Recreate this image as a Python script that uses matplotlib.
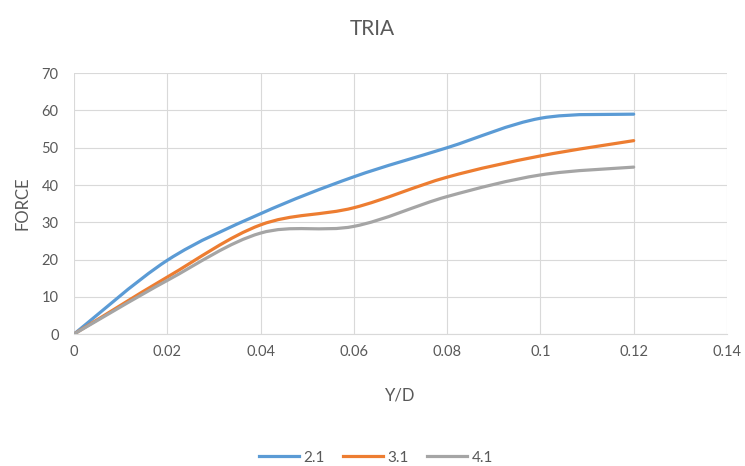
import numpy as np
import matplotlib
matplotlib.use("Agg")
import matplotlib.pyplot as plt
from matplotlib.path import Path
from matplotlib.patches import PathPatch
from matplotlib.lines import Line2D

# valores
y_d = [0, 0.02, 0.04, 0.06, 0.08, 0.10, 0.12]
force_21 = [0, 19.8, 32.3, 42.2, 50.0, 57.9, 59.0]
force_31 = [0, 15.3, 29.3, 33.9, 42.1, 47.8, 51.9]
force_41 = [0, 14.4, 27.1, 28.9, 36.9, 42.7, 44.8]
series_names = ["2.1", "3.1", "4.1"]
colors = ["#5B9BD5", "#ED7D31", "#A5A5A5"]

plt.rcParams["font.family"] = ["Lato", "DejaVu Sans"]
TXT = "#595959"


def curva_suave(x, y):
    """Caminho Bezier ao estilo 'smoothed line' do Excel."""
    pts = np.column_stack([x, y])
    n = len(pts)
    verts = [pts[0]]
    codes = [Path.MOVETO]
    for i in range(n - 1):
        p0 = pts[i - 1] if i > 0 else pts[i]
        p1 = pts[i]
        p2 = pts[i + 1]
        p3 = pts[i + 2] if i + 2 < n else pts[i + 1]
        c1 = p1 + (p2 - p0) / 6
        c2 = p2 - (p3 - p1) / 6
        verts += [c1, c2, p2]
        codes += [Path.CURVE4] * 3
    return Path(verts, codes)


fig = plt.figure(figsize=(7.45, 4.66), dpi=100)
ax = fig.add_axes([0.0993, 0.283, 0.8765, 0.560])

for vals, cor in zip([force_21, force_31, force_41], colors):
    patch = PathPatch(curva_suave(y_d, vals), facecolor="none", edgecolor=cor,
                      lw=2.3, capstyle="round", joinstyle="round", zorder=3)
    ax.add_patch(patch)

ax.set_xlim(0, 0.14)
ax.set_ylim(0, 70)
ax.set_xticks(np.arange(0, 0.141, 0.02))
ax.set_xticklabels(["0", "0.02", "0.04", "0.06", "0.08", "0.1", "0.12", "0.14"])
ax.set_yticks(range(0, 71, 10))
ax.grid(True, color="#D9D9D9", lw=0.8)
ax.set_axisbelow(True)
for lado in ["top", "right", "left"]:
    ax.spines[lado].set_visible(False)
ax.spines["bottom"].set_color("#D9D9D9")
ax.tick_params(length=0, labelsize=10.5, colors=TXT)
ax.tick_params(axis="y", pad=11)
ax.tick_params(axis="x", pad=8)

ax.set_xlabel("Y/D", fontsize=12, color=TXT, labelpad=20)
ax.set_ylabel("FORCE", fontsize=12, color=TXT, labelpad=8)
fig.suptitle("TRIA", fontsize=15, color=TXT, y=0.96)

handles = [Line2D([], [], color=c, lw=2.3) for c in colors]
fig.legend(handles, series_names, loc="center", bbox_to_anchor=(0.505, 0.018),
           ncol=3, frameon=False, fontsize=11, labelcolor=TXT,
           handlelength=2.6, columnspacing=1.2, handletextpad=0.3)

fig.savefig("out.png", dpi=100)
